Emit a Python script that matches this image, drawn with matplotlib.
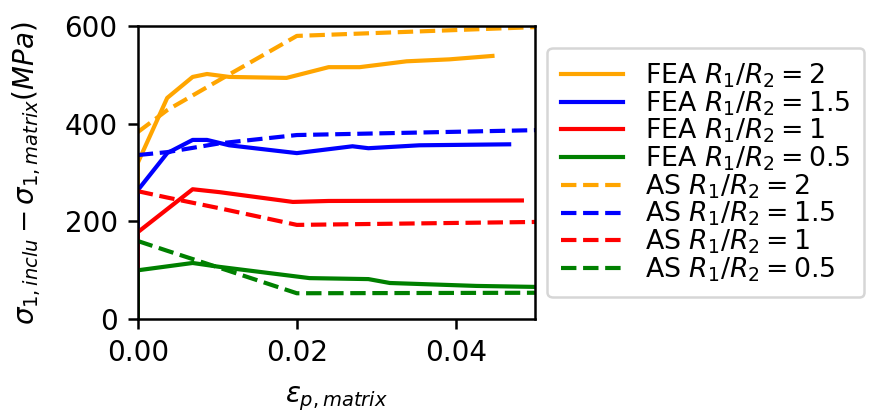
import matplotlib
matplotlib.use("Agg")
import matplotlib.pyplot as plt

# FEA curves
fea_x_2 = [0, 0, 0.0037, 0.0069, 0.0087, 0.0115, 0.0187, 0.024, 0.0279, 0.0338, 0.0392, 0.0446]
fea_y_2 = [0, 320, 453, 496, 502, 496, 494, 516, 516, 528, 532, 539]

fea_x_15 = [0, 0, 0.0037, 0.0069, 0.0087, 0.0115, 0.02, 0.027, 0.029, 0.0354, 0.0467]
fea_y_15 = [0, 264, 340, 367, 367, 356, 340, 354, 350, 356, 358]

fea_x_1 = [0, 0, 0.0069, 0.0103, 0.0195, 0.024, 0.0483]
fea_y_1 = [0, 178, 266, 260, 240, 242, 243]

fea_x_05 = [0, 0, 0.0069, 0.0103, 0.0216, 0.029, 0.0317, 0.0426, 0.05]
fea_y_05 = [0, 100, 115, 107, 84, 82, 74, 68, 66]

# Analytical solution curves
as_x = [0, 0.0037, 0.0103, 0.02, 0.05]
as_y_2 = [383, 428, 490, 580, 598]
as_y_15 = [336, 342, 360, 377, 387]
as_y_1 = [262, 249, 227, 193, 199]
as_y_05 = [160, 140, 105, 53, 54]

labels_fea = [r"FEA $R_1/R_2 = 2$", r"FEA $R_1/R_2 = 1.5$", r"FEA $R_1/R_2 = 1$", r"FEA $R_1/R_2 = 0.5$"]
labels_as = [r"AS $R_1/R_2 = 2$", r"AS $R_1/R_2 = 1.5$", r"AS $R_1/R_2 = 1$", r"AS $R_1/R_2 = 0.5$"]
colors = ["orange", "blue", "red", "green"]

plt.rcParams["font.size"] = 20
plt.rcParams["axes.linewidth"] = 1.8
for a in ("xtick", "ytick"):
    plt.rcParams[f"{a}.major.size"] = 7.5
    plt.rcParams[f"{a}.major.width"] = 1.8
    plt.rcParams[f"{a}.major.pad"] = 7

fig = plt.figure(figsize=(8.72, 4.15), dpi=100)
ax = fig.add_axes([0.158, 0.231, 0.456, 0.706])

lw = 3.0
fea = [(fea_x_2, fea_y_2), (fea_x_15, fea_y_15), (fea_x_1, fea_y_1), (fea_x_05, fea_y_05)]
for (x, y), c, l in zip(fea, colors, labels_fea):
    ax.plot(x, y, color=c, lw=lw, label=l)
for y, c, l in zip([as_y_2, as_y_15, as_y_1, as_y_05], colors, labels_as):
    ax.plot(as_x, y, color=c, lw=lw, ls="--", label=l)

ax.set_xlim(0, 0.05)
ax.set_ylim(0, 600)
ax.set_xticks([0.0, 0.02, 0.04])
ax.set_yticks([0, 200, 400, 600])
ax.set_xlabel(r"$\epsilon_{p,matrix}$", labelpad=12)
ax.set_ylabel(r"$\sigma_{1,inclu}-\sigma_{1,matrix}(MPa)$")
ax.yaxis.set_label_coords(-0.238, 0.5)
leg = ax.legend(loc="center left", bbox_to_anchor=(1.0, 0.5), handlelength=2.3,
                handletextpad=0.85, labelspacing=-0.03, borderpad=0.5,
                borderaxespad=0.45, fontsize=19.3)
leg.get_frame().set_linewidth(1.8)

fig.savefig("out.png", dpi=100)
